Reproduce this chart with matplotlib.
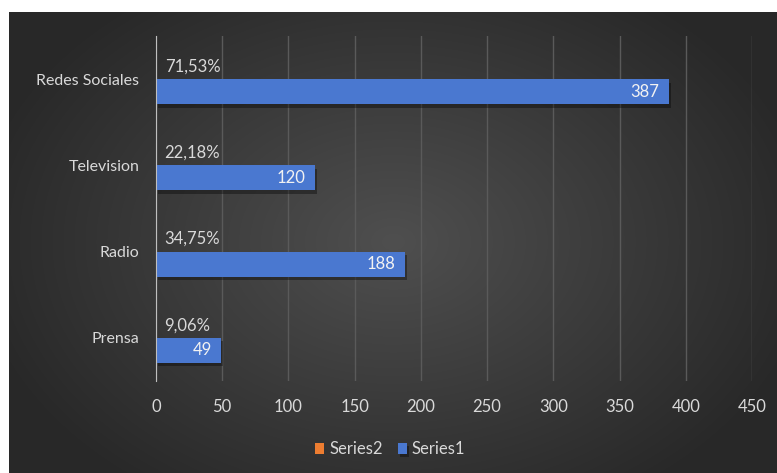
import numpy as np
import matplotlib
matplotlib.use("Agg")
import matplotlib.pyplot as plt
import matplotlib.patheffects as pe

categories = ["Prensa", "Radio", "Television", "Redes Sociales"]
series1 = [49, 188, 120, 387]
series2 = [0.0906, 0.3475, 0.2218, 0.7153]
series2_labels = ["9,06%", "34,75%", "22,18%", "71,53%"]

plt.rcParams['font.family'] = ['Lato', 'DejaVu Sans']
txt = '#d9d9d9'

W, H = 777, 473
fig = plt.figure(figsize=(W / 100, H / 100), dpi=100)
fig.patch.set_facecolor('white')

# dark radial gradient background
bg = fig.add_axes([9 / W, 0, (W - 9) / W, (H - 12) / H])
yy, xx = np.mgrid[0:461, 0:768]
r = np.sqrt(((xx - 384) / 420.0) ** 2 + ((yy - 230) / 300.0) ** 2)
r = np.clip(r, 0, 1)
g = (0.31 - 0.15 * r)
bg.imshow(np.dstack([g, g, g]), aspect='auto', extent=[0, 1, 0, 1])
bg.axis('off')

ax = fig.add_axes([156 / W, (H - 381) / H, (752 - 156) / W, (381 - 36) / H])
ax.patch.set_alpha(0)

y = np.arange(len(categories))
h = 0.29
b1 = ax.barh(y - h / 2, series1, height=h, color='#4a78d0', label='Series1', zorder=3)
b2 = ax.barh(y + h / 2, series2, height=h, color='#ed7d31', label='Series2', zorder=3)
for bar in b1:
    bar.set_path_effects([pe.SimplePatchShadow(offset=(1.5, -2.5), shadow_rgbFace='black', alpha=0.35), pe.Normal()])

for yi, v in zip(y, series1):
    ax.text(v - 7, yi - h / 2, str(v), ha='right', va='center', color='#f2f2f2', fontsize=12, zorder=4)
for yi, v, lab in zip(y, series2, series2_labels):
    ax.text(v + 6, yi + h / 2, lab, ha='left', va='center', color=txt, fontsize=12, zorder=4)

ax.set_xlim(0, 450)
ax.set_ylim(-0.5, 3.5)
ax.set_xticks(np.arange(0, 451, 50))
ax.set_yticks(y)
ax.set_yticklabels(categories)
ax.tick_params(axis='both', length=0, colors=txt, labelsize=12)
ax.tick_params(axis='y', labelsize=11.5, pad=12)
ax.tick_params(axis='x', pad=13)
ax.grid(axis='x', color='#5a5a5a', linewidth=1, zorder=0)
for s in ['top', 'right', 'bottom']:
    ax.spines[s].set_visible(False)
ax.spines['left'].set_color('#bfbfbf')
ax.spines['left'].set_zorder(5)

leg = fig.legend(handles=[b2, b1], labels=['Series2', 'Series1'], loc='center',
                 bbox_to_anchor=(390 / W, 1 - 449 / H), ncol=2, frameon=False,
                 handlelength=0.55, handleheight=0.65, handletextpad=0.3, columnspacing=0.9,
                 fontsize=12, labelcolor=txt)

fig.savefig('out.png', dpi=100)
